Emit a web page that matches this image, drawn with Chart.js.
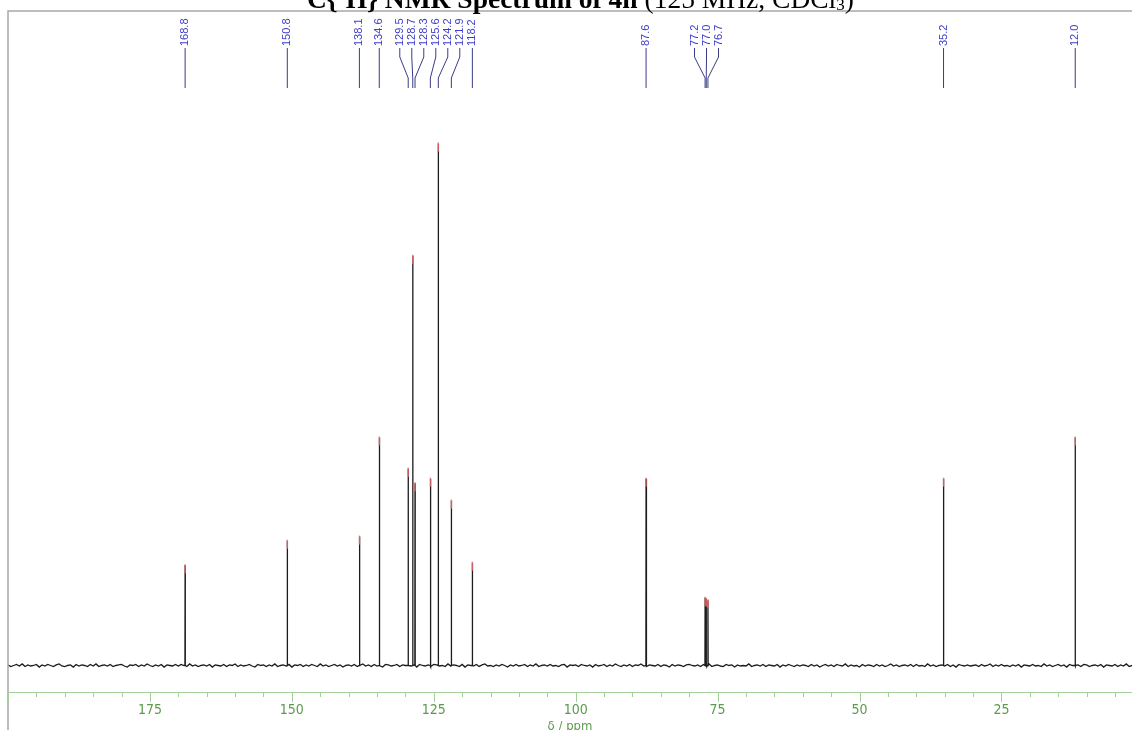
<!DOCTYPE html>
<html>
<head>
<meta charset="utf-8">
<script src="https://cdn.jsdelivr.net/npm/chart.js@4.4.1/dist/chart.umd.min.js"></script>
<style>
  html, body { margin: 0; padding: 0; background: #ffffff; overflow: hidden; }
  #wrap { width: 1132px; height: 734px; position: relative; }
</style>
</head>
<body>
<div id="wrap"><canvas id="c" width="1132" height="734"></canvas></div>
<script>
// ---- data ----
const peakShifts  = [168.8, 150.8, 138.1, 134.6, 129.5, 128.7, 128.3, 125.6, 124.2, 121.9, 118.2, 87.6, 77.2, 77.0, 76.7, 35.2, 12.0];
const peakHeights = [19.2, 23.9, 24.7, 43.7, 37.7, 78.5, 34.9, 35.8, 100, 31.6, 19.7, 35.8, 13.0, 12.8, 12.5, 35.8, 43.7];
const tickLabels  = [175, 150, 125, 100, 75, 50, 25];
const baselineStart = 200;
const baselineStep = 0.5;
const noiseTenths = [
 1,-2,0,2,-1,3,-2,1,-1,0,2,-3,1,-1,2,0,-2,1,3,-1,
 -2,0,1,-3,2,-1,1,0,-2,2,-1,3,-2,0,1,-1,2,-2,0,1,
 2,-1,-3,1,0,2,-2,1,-1,3,0,-2,1,-1,2,-3,1,0,-1,2,
 -1,2,0,-2,3,-1,1,-2,0,1,-1,2,-3,1,0,-1,2,-2,1,0,
 3,-2,1,-1,0,2,-1,-3,2,0,1,-2,1,-1,3,-2,0,1,-1,2,
 -3,1,0,2,-2,1,-1,2,0,-2,3,-1,1,-2,0,2,-1,1,-3,0,
 1,-1,2,-2,0,3,-1,1,-2,2,-1,0,-3,2,1,-1,0,2,-2,1,
 0,2,-1,1,-3,2,0,-1,1,-2,2,1,-1,0,-2,3,-1,1,0,-2,
 2,-3,1,0,-1,2,-2,1,3,-1,0,-2,1,-1,2,0,-3,1,-1,2,
 -1,0,2,-2,1,-1,3,-2,0,1,-1,2,-1,0,-2,1,2,-3,1,0,
 1,-2,2,0,-1,1,-3,2,-1,0,2,-2,1,-1,3,0,-2,1,-1,2,
 -2,1,0,3,-1,-2,1,0,-1,2,-2,1,0,-3,2,-1,1,0,-2,1,
 2,0,-1,1,-2,2,-1,3,-2,0,1,-1,-2,2,0,1,-3,1,-1,0,
 -1,3,-2,0,1,-1,2,-2,1,0,-1,2,-3,1,-1,2,0,-2,1,-1,
 1,0,-2,2,-1,1,-3,0,2,-1,1,-2,2,0,-1,3,-2,1,-1,0,
 -3,2,-1,1,0,-2,2,-1,1,-2,0,3,-1,1,-2,0,1,-1,2,-2,
 2,-1,0,-2,3,-1,1,-2,0,1,-1,2,-2,1,-3,2,0,-1,1,-1,
 0,1,-2,2,-1,0,3,-2,1,-1,2,-1,0,-2,1,-1,2,-3,1,0,
 -1,2,-1,0,-2,3,-1,1,-2,0,2,-1,1,-3,2,0,-1,1,-2,2,
 1,-2,0,1,-1,2,-3,1,0,-1,2,-2,1,-1,3,-2,0,1,-1,0
];
const axisTitle = 'δ / ppm';

// ---- build the spectrum trace from the arrays ----
const spectrum = [];
noiseTenths.forEach((n, i) => spectrum.push({ x: baselineStart - i * baselineStep, y: n / 10 }));
peakShifts.forEach((d, i) => {
  spectrum.push({ x: d + 0.03, y: 0 }, { x: d, y: peakHeights[i] }, { x: d - 0.03, y: 0 });
});
spectrum.sort((a, b) => b.x - a.x);

const GREEN_TEXT = '#5c9a4e';
const GREEN_LINE = '#a3cf9a';
const narrowFont = '"Liberation Sans Narrow", "DejaVu Sans Condensed", "Roboto Condensed", "Liberation Sans", sans-serif';

const nmrDecor = {
  id: 'nmrDecor',
  afterDraw(chart) {
    const { ctx, chartArea: a, scales: { x, y } } = chart;
    ctx.save();

    // frame (top + left)
    ctx.strokeStyle = '#a8a8a8';
    ctx.lineWidth = 1.5;
    ctx.beginPath();
    ctx.moveTo(a.left, chart.height);
    ctx.lineTo(a.left, a.top);
    ctx.lineTo(chart.width, a.top);
    ctx.stroke();

    // major / minor ticks
    ctx.strokeStyle = GREEN_LINE;
    ctx.lineWidth = 1;
    x.ticks.forEach(t => {
      const v = t.value;
      if (Math.abs(v / 5 - Math.round(v / 5)) > 1e-6) return;
      const px = Math.round(x.getPixelForValue(v)) + 0.5;
      const len = (Math.round(v) % 25 === 0) ? 10 : 5;
      ctx.beginPath();
      ctx.moveTo(px, a.bottom);
      ctx.lineTo(px, a.bottom + len);
      ctx.stroke();
    });

    // red peak-top marks
    ctx.strokeStyle = 'rgba(232,110,110,0.85)';
    ctx.lineWidth = 1.4;
    peakShifts.forEach((d, i) => {
      const px = x.getPixelForValue(d);
      const py = y.getPixelForValue(peakHeights[i]);
      ctx.beginPath();
      ctx.moveTo(px, py - 1);
      ctx.lineTo(px, py + 8);
      ctx.stroke();
    });

    // peak labels with de-overlapped positions
    const spacing = 12;
    const items = peakShifts.map((d, i) => ({ d, px: x.getPixelForValue(d), label: d.toFixed(1) }))
      .sort((p, q) => p.px - q.px);
    let clusters = items.map(it => ({ members: [it] }));
    const place = c => {
      const ps = c.members.map(m => m.px);
      const center = (Math.min(...ps) + Math.max(...ps)) / 2;
      const n = c.members.length;
      c.members.forEach((m, k) => { m.lx = center + (k - (n - 1) / 2) * spacing; });
    };
    clusters.forEach(place);
    let merged = true;
    while (merged) {
      merged = false;
      for (let k = 0; k < clusters.length - 1; k++) {
        const A = clusters[k], B = clusters[k + 1];
        const aLast = A.members[A.members.length - 1].lx;
        const bFirst = B.members[0].lx;
        if (bFirst - aLast < spacing) {
          const C = { members: A.members.concat(B.members) };
          place(C);
          clusters.splice(k, 2, C);
          merged = true;
          break;
        }
      }
    }
    const textBottom = 46, kneeTop = 57, kneeBottom = 78, lineEnd = 88;
    ctx.strokeStyle = '#3b3b86';
    ctx.lineWidth = 1;
    ctx.fillStyle = '#3d3dc8';
    ctx.font = '11px "Liberation Sans", Arial, sans-serif';
    items.forEach(m => {
      ctx.beginPath();
      ctx.moveTo(m.lx, textBottom + 2);
      ctx.lineTo(m.lx, kneeTop);
      ctx.lineTo(m.px, kneeBottom);
      ctx.lineTo(m.px, lineEnd);
      ctx.stroke();
      ctx.save();
      ctx.translate(m.lx, textBottom);
      ctx.rotate(-Math.PI / 2);
      ctx.textAlign = 'left';
      ctx.textBaseline = 'middle';
      ctx.fillText(m.label, 0, 0);
      ctx.restore();
    });

    // title (top is cropped in the reference)
    const base = 8;
    const big = 27.5;
    const parts = [
      { t: '13', w: 'bold', s: 16, dy: -12 },
      { t: 'C{', w: 'bold', s: big, dy: 0 },
      { t: '1', w: 'bold', s: 16, dy: -12 },
      { t: 'H} NMR Spectrum of 4h', w: 'bold', s: big, dy: 0 },
      { t: ' (125 MHz, CDCl', w: 'normal', s: big, dy: 0 },
      { t: '3', w: 'normal', s: 17, dy: 2 },
      { t: ')', w: 'normal', s: big, dy: 0 }
    ];
    ctx.fillStyle = '#000';
    ctx.textAlign = 'left';
    ctx.textBaseline = 'alphabetic';
    let tx = 291;
    parts.forEach(p => {
      ctx.font = p.w + ' ' + p.s + 'px "Liberation Serif", "Times New Roman", serif';
      ctx.fillText(p.t, tx, base + p.dy);
      tx += ctx.measureText(p.t).width;
    });
    ctx.restore();
  }
};

new Chart(document.getElementById('c'), {
  type: 'line',
  data: {
    datasets: [{
      data: spectrum,
      borderColor: '#1c1c1c',
      borderWidth: 1.3,
      pointRadius: 0,
      tension: 0,
      fill: false
    }]
  },
  options: {
    responsive: false,
    animation: false,
    devicePixelRatio: 1,
    layout: { padding: { left: 8, top: 11, right: 0, bottom: 0 } },
    plugins: { legend: { display: false }, tooltip: { enabled: false }, title: { display: false } },
    scales: {
      x: {
        type: 'linear',
        reverse: true,
        min: 2,
        max: 200,
        grid: { display: false, drawTicks: false },
        border: { display: true, color: GREEN_LINE, width: 1 },
        ticks: {
          stepSize: 5,
          autoSkip: false,
          maxRotation: 0,
          padding: 10,
          color: GREEN_TEXT,
          font: { family: narrowFont, size: 14 },
          callback: v => tickLabels.includes(v) ? String(v) : ''
        },
        title: {
          display: true,
          text: axisTitle,
          color: GREEN_TEXT,
          font: { family: narrowFont, size: 13 },
          padding: { top: 0, bottom: 0 }
        },
        afterFit: scale => {
          scale.height = 42;
          scale.paddingLeft = 0;
          scale.paddingRight = 0;
        }
      },
      y: {
        display: false, min: -5.08, max: 125.4,
        afterFit: scale => { scale.width = 0; }
      }
    }
  },
  plugins: [nmrDecor]
});
</script>
</body>
</html>
